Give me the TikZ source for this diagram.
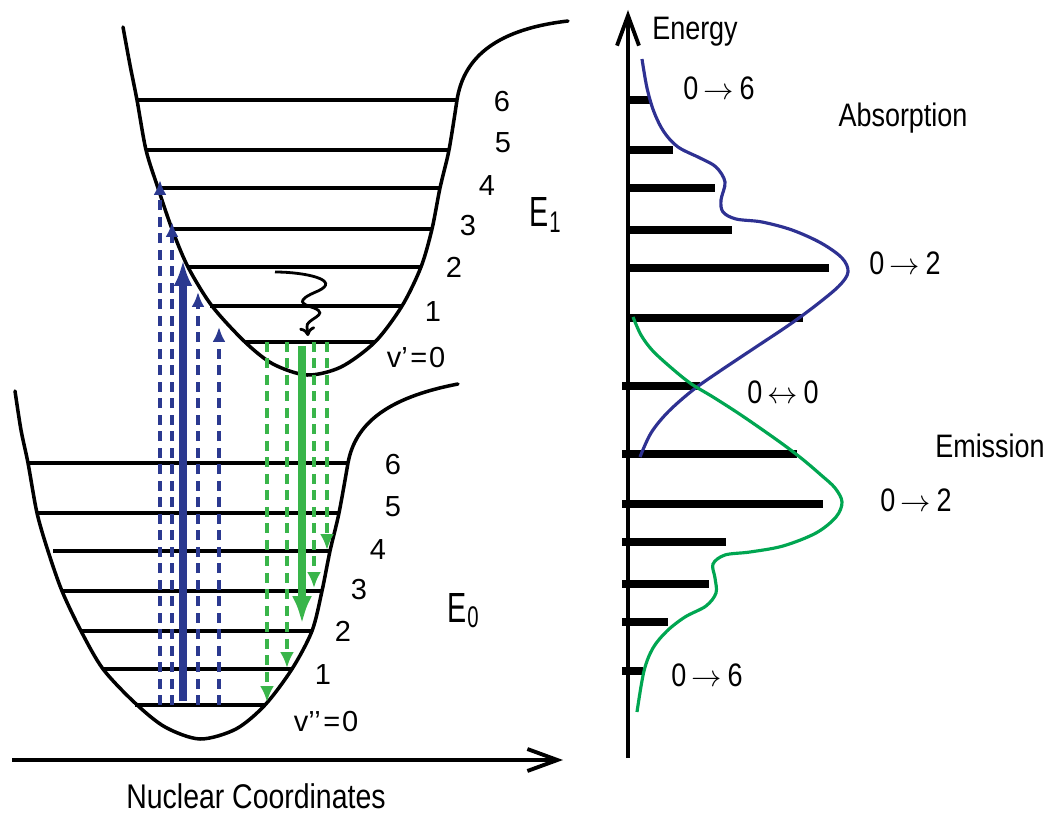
\documentclass[tikz,border=0pt]{standalone}
\usepackage{fontspec}
\setmainfont{Liberation Sans}
\newfontfamily\condfont{Liberation Sans}[FakeStretch=0.83]
\newfontfamily\efont{Liberation Sans}[FakeStretch=0.68]
\usetikzlibrary{arrows.meta}
\definecolor{absblue}{RGB}{43,57,144}
\definecolor{emgreen}{RGB}{57,181,74}
\definecolor{specblue}{RGB}{46,49,146}
\definecolor{specgreen}{RGB}{0,166,81}
\newcommand{\Esub}[1]{{\efont\fontsize{24}{26}\selectfont E\kern0.5pt\raisebox{-3pt}{\fontsize{17}{18}\selectfont #1}}}
\begin{document}
\begin{tikzpicture}[x=0.02cm,y=-0.02cm,
  well/.style={line width=2pt, line join=round, line cap=round},
  lvl/.style={line width=1.9pt},
  axisline/.style={line width=2.2pt, -{Straight Barb[length=0.6cm,width=0.44cm,line width=2.2pt]}},
  absdash/.style={absblue, line width=2.1pt, dash pattern=on 0.2cm off 0.13cm, -{Latex[length=0.3cm,width=0.26cm]}},
  abssolid/.style={absblue, line width=4.2pt, -{Latex[length=0.52cm,width=0.38cm]}},
  emdash/.style={emgreen, line width=2.1pt, dash pattern=on 0.2cm off 0.13cm, -{Latex[length=0.32cm,width=0.28cm]}},
  emsolid/.style={emgreen, line width=4.2pt, -{Latex[length=0.56cm,width=0.4cm]}},
  bar/.style={line width=4pt},
  spec/.style={line width=1.8pt},
  lvllabel/.style={font=\fontsize{16.5}{18}\selectfont, inner sep=0pt},
  speclabel/.style={font=\condfont\fontsize{18.5}{20}\selectfont, inner sep=0pt}]
\useasboundingbox (0,0) rectangle (1049,814);

% ---------- upper potential well E1 ----------
\draw[well] plot[smooth, tension=0.5] coordinates {(123,27) (130,65) (137,100) (146,150) (158,188) (172,229) (188,267) (212,306) (245,342) (273,364) (307,375) (341,367) (375,342) (402,306) (421,267) (432,229) (440,188) (449,150) (457,100)}
  .. controls (463,62) and (490,30) .. (568,21);
\foreach \y/\a/\b in {100/137/457, 150/145/449, 188/157/440, 229/172/432, 267/187/422, 306/210/402, 342/244/375}
  \draw[lvl] (\a,\y) -- (\b,\y);

% ---------- lower potential well E0 ----------
\draw[well] plot[smooth, tension=0.5] coordinates {(15,391) (21,430) (28,463) (37,513) (48,551) (62,591) (81,631) (103,669) (135,703) (165,727) (200,739) (236,729) (265,705) (292,669) (312,631) (322,591) (330,551) (339,513) (348,463)}
  .. controls (355,425) and (385,398) .. (458,384);
\foreach \y/\a/\b in {463/28/348, 513/37/339, 551/53/330, 591/63/322, 631/80/312, 669/102/292, 705/135/265}
  \draw[lvl] (\a,\y) -- (\b,\y);

% ---------- level labels ----------
\node[lvllabel] (u6) at (502,102) {6};
\node[lvllabel] (u5) at (503,143) {5};
\node[lvllabel] (u4) at (487,186) {4};
\node[lvllabel] (u3) at (468,226) {3};
\node[lvllabel] (u2) at (454,267) {2};
\node[lvllabel] (u1) at (433,312) {1};
\node[lvllabel] (u0) at (416,358) {v’\kern1.5pt=\kern1pt0};
\node[inner sep=0pt] (e1) at (545,215) {\Esub{1}};

\node[lvllabel] (l6) at (393,465) {6};
\node[lvllabel] (l5) at (393,507) {5};
\node[lvllabel] (l4) at (378,550) {4};
\node[lvllabel] (l3) at (359,590) {3};
\node[lvllabel] (l2) at (343,631) {2};
\node[lvllabel] (l1) at (323,675) {1};
\node[lvllabel] (l0) at (326,722) {v’’\kern1.5pt=\kern1pt0};
\node[inner sep=0pt] (e0) at (463,611) {\Esub{0}};

% ---------- absorption arrows ----------
\coordinate (a1s) at (160,705); \coordinate (a1e) at (160,180);
\coordinate (a2s) at (172,705); \coordinate (a2e) at (172,222);
\coordinate (a3s) at (183,701); \coordinate (a3e) at (183,260);
\coordinate (a4s) at (198,705); \coordinate (a4e) at (198,292);
\coordinate (a5s) at (219,705); \coordinate (a5e) at (219,327);
\draw[absdash] (a1s) -- (a1e);
\draw[absdash] (a2s) -- (a2e);
\draw[abssolid] (a3s) -- (a3e);
\draw[absdash] (a4s) -- (a4e);
\draw[absdash] (a5s) -- (a5e);

% ---------- emission arrows ----------
\coordinate (g1s) at (267,342); \coordinate (g1e) at (267,702);
\coordinate (g2s) at (287,342); \coordinate (g2e) at (287,668);
\coordinate (g3s) at (302,346); \coordinate (g3e) at (302,624);
\coordinate (g4s) at (314,342); \coordinate (g4e) at (314,588);
\coordinate (g5s) at (327,342); \coordinate (g5e) at (327,550);
\draw[emdash] (g1s) -- (g1e);
\draw[emdash] (g2s) -- (g2e);
\draw[emsolid] (g3s) -- (g3e);
\draw[emdash] (g4s) -- (g4e);
\draw[emdash] (g5s) -- (g5e);

% ---------- relaxation (wavy) arrow ----------
\coordinate (w0) at (275,272);
\coordinate (w1) at (308,336);
\draw[line width=1.6pt, -{To[length=0.18cm,width=0.32cm]}] (w0) .. controls (305,272) and (342,280) .. (318,291)
  .. controls (294,301) and (302,304) .. (314,308)
  .. controls (331,315) and (305,319) .. (307,327) -- (w1);

% ---------- nuclear coordinate axis ----------
\coordinate (xa0) at (12,760);
\coordinate (xa1) at (563,760);
\draw[axisline] (xa0) -- (xa1);
\node[font=\condfont\fontsize{19.5}{21}\selectfont, inner sep=0pt, anchor=base] (xlab) at (256,808) {Nuclear Coordinates};

% ---------- energy axis (spectrum) ----------
\coordinate (ya0) at (628,758);
\coordinate (ya1) at (628,10);
\draw[axisline] (ya0) -- (ya1);
\node[speclabel] (ylab) at (695,32) {Energy};

% bars
\foreach \y/\a/\b in {100/628/650, 150/628/673, 188/628/715, 230/628/732, 268/628/829, 318/628/803,
                      386/622/700, 454/622/797, 504/622/823, 542/622/726, 584/622/709, 622/622/668, 671/622/643}
  \draw[bar] (\a,\y) -- (\b,\y);

% absorption spectrum
\draw[spec, specblue] plot[smooth, tension=0.55] coordinates {(642,59) (647,88) (654,112) (664,132) (678,147) (700,158) (716,167) (725,182) (721,200) (723,212) (736,219) (762,222) (792,230) (821,243) (842,258) (848,272) (839,286) (815,306) (789,325) (756,347) (720,371) (693,390) (668,412) (651,433) (640,457)};

% emission spectrum
\draw[spec, specgreen] plot[smooth, tension=0.55] coordinates {(633,317) (641,335) (652,350) (668,365) (690,383) (713,397) (741,415) (777,440) (801,458) (821,475) (835,488) (842,502) (836,517) (816,533) (783,546) (750,552) (725,555) (713,564) (715,578) (716,593) (706,606) (685,617) (667,631) (653,648) (644,671) (637,712)};

% spectrum labels
\node[speclabel] (s06a) at (719,88) {0\,$\rightarrow$\,6};
\node[speclabel] (sabs) at (903,118) {Absorption};
\node[speclabel] (s02a) at (905,263) {0\,$\rightarrow$\,2};
\node[speclabel] (s00) at (783,392) {0\,$\leftrightarrow$\,0};
\node[speclabel] (sem) at (990,446) {Emission};
\node[speclabel] (s02e) at (916,500) {0\,$\rightarrow$\,2};
\node[speclabel] (s06e) at (707,675) {0\,$\rightarrow$\,6};
\end{tikzpicture}
\end{document}
